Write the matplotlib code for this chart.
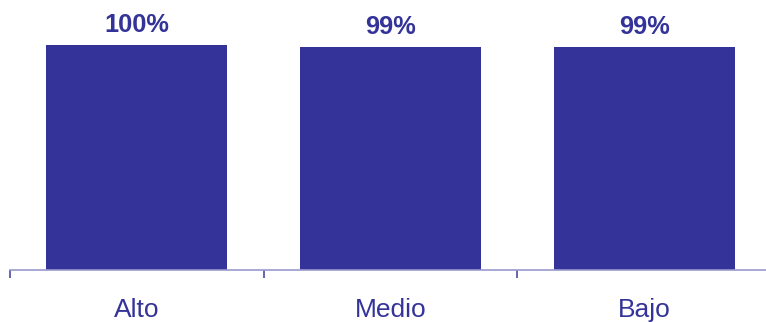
import matplotlib
matplotlib.use("Agg")
import matplotlib.pyplot as plt

categories = ["Alto", "Medio", "Bajo"]
values = [100, 99, 99]
value_labels = ["100%", "99%", "99%"]

BAR = "#333399"
plt.rcParams['font.family'] = ['Liberation Sans', 'DejaVu Sans']

fig = plt.figure(figsize=(7.66, 3.22), dpi=100)
ax = fig.add_axes([10/766, 52/322, 761/766, 270/322])
x = list(range(len(categories)))
ax.bar(x, values, width=0.714, color=BAR, zorder=2)
ax.set_xlim(-0.5, len(categories) - 0.5)
ax.set_ylim(0, 120)

for s in ["top", "right", "left"]:
    ax.spines[s].set_visible(False)
ax.spines["bottom"].set_color("#9a9ad0")
ax.spines["bottom"].set_linewidth(1.2)
ax.set_yticks([])
ax.set_xticks([i - 0.5 for i in range(len(categories) + 1)])
ax.set_xticklabels([])
ax.tick_params(axis="x", length=6, width=1.2, color="#4a4aa8", direction="out")

for i, (c, v, lab) in enumerate(zip(categories, values, value_labels)):
    ax.annotate(lab, xy=(i, v), xytext=(0, 13 * 0.72), textcoords="offset points",
                ha="center", va="baseline", fontsize=18.3, fontweight="bold", color=BAR)
    ax.annotate(c, xy=(i, 0), xycoords=("data", "axes fraction"), xytext=(0, -47 * 0.72),
                textcoords="offset points", ha="center", va="baseline", fontsize=19, color=BAR)

fig.savefig("out.png", dpi=100)
